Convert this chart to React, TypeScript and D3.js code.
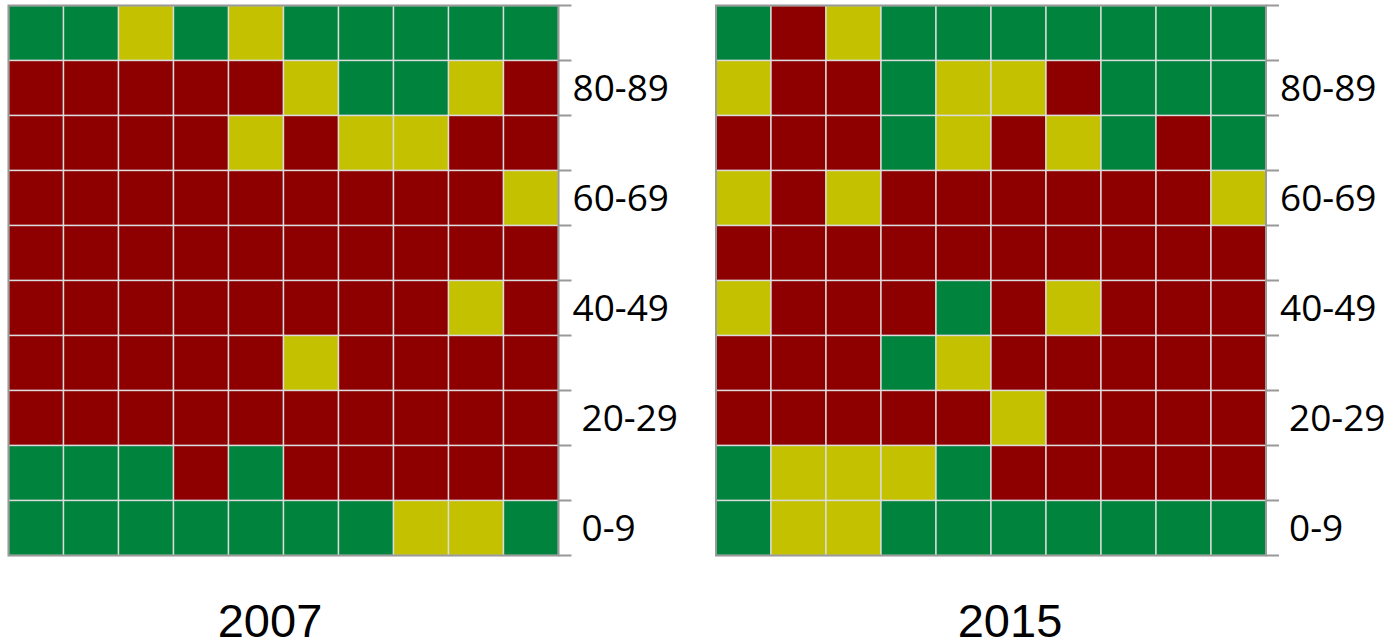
import React from "react";
import * as d3 from "d3";

// age bands, bottom to top
const ageGroups = [
  "0-9",
  "10-19",
  "20-29",
  "30-39",
  "40-49",
  "50-59",
  "60-69",
  "70-79",
  "80-89",
  "90-99",
];
const labeledGroups = ["0-9", "20-29", "40-49", "60-69", "80-89"];
const columns = [1, 2, 3, 4, 5, 6, 7, 8, 9, 10];

// G = green, Y = yellow, R = red ; rows listed top (90-99) to bottom (0-9)
const grid2007 = [
  "GGYGYGGGGG",
  "RRRRRYGGYR",
  "RRRRYRYYRR",
  "RRRRRRRRRY",
  "RRRRRRRRRR",
  "RRRRRRRRYR",
  "RRRRRYRRRR",
  "RRRRRRRRRR",
  "GGGRGRRRRR",
  "GGGGGGGYYG",
];
const grid2015 = [
  "GRYGGGGGGG",
  "YRRGYYRGGG",
  "RRRGYRYGRG",
  "YRYRRRRRRY",
  "RRRRRRRRRR",
  "YRRRGRYRRR",
  "RRRGYRRRRR",
  "RRRRRYRRRR",
  "GYYYGRRRRR",
  "GYYGGGGGGG",
];
const years = ["2007", "2015"];
const grids = [grid2007, grid2015];

const color = d3
  .scaleOrdinal<string, string>()
  .domain(["G", "Y", "R"])
  .range(["#00833d", "#c3c100", "#8e0000"]);

const WIDTH = 1394;
const HEIGHT = 644;
const panelLeft = [8.5, 716];
const titleX = [270, 1010];
const gridTop = 5.5;
const gridSize = 550;

interface PanelProps {
  x0: number;
  rows: string[];
  title: string;
  tx: number;
}

const Panel: React.FC<PanelProps> = ({ x0, rows, title, tx }) => {
  const x = d3
    .scaleBand<number>()
    .domain(columns)
    .range([x0, x0 + gridSize]);
  const y = d3
    .scaleBand<string>()
    .domain(ageGroups.slice().reverse())
    .range([gridTop, gridTop + gridSize]);
  // boundaries between rows for the axis ticks
  const yEdge = d3
    .scaleLinear()
    .domain([0, ageGroups.length])
    .range([gridTop + gridSize, gridTop]);
  const right = x0 + gridSize;

  const cells: { col: number; age: string; v: string }[] = [];
  rows.forEach((row, ri) => {
    const age = ageGroups[ageGroups.length - 1 - ri];
    row.split("").forEach((v, ci) => cells.push({ col: columns[ci], age, v }));
  });

  return (
    <g>
      {cells.map((c, i) => (
        <rect
          key={i}
          x={x(c.col)}
          y={y(c.age)}
          width={x.bandwidth()}
          height={y.bandwidth()}
          fill={color(c.v)}
          stroke="#dcdcdc"
          strokeWidth={1.4}
        />
      ))}
      <rect
        x={x0}
        y={gridTop}
        width={gridSize}
        height={gridSize}
        fill="none"
        stroke="#9a9a9a"
        strokeWidth={2}
      />
      {yEdge.ticks(10).map((t) => (
        <line
          key={t}
          x1={right}
          x2={right + 13}
          y1={yEdge(t)}
          y2={yEdge(t)}
          stroke="#999"
          strokeWidth={2}
        />
      ))}
      {labeledGroups.map((g) => (
        <text
          key={g}
          // lower two labels sit a little further out in the original
          x={right + (ageGroups.indexOf(g) < 3 ? 23 : 14)}
          y={(y(g) as number) + y.bandwidth() / 2}
          dy="0.35em"
          fontFamily="'Open Sans', sans-serif"
          fontSize={37}
          fill="#000"
        >
          {g}
        </text>
      ))}
      <text
        x={tx}
        y={637}
        textAnchor="middle"
        fontFamily="'Liberation Sans', Arial, sans-serif"
        fontSize={47}
        fill="#000"
      >
        {title}
      </text>
    </g>
  );
};

export default function App() {
  return (
    <svg
      width={WIDTH}
      height={HEIGHT}
      style={{ position: "absolute", left: 0, top: 0, background: "#fff" }}
    >
      {years.map((yr, i) => (
        <Panel
          key={yr}
          x0={panelLeft[i]}
          rows={grids[i]}
          title={yr}
          tx={titleX[i]}
        />
      ))}
    </svg>
  );
}
